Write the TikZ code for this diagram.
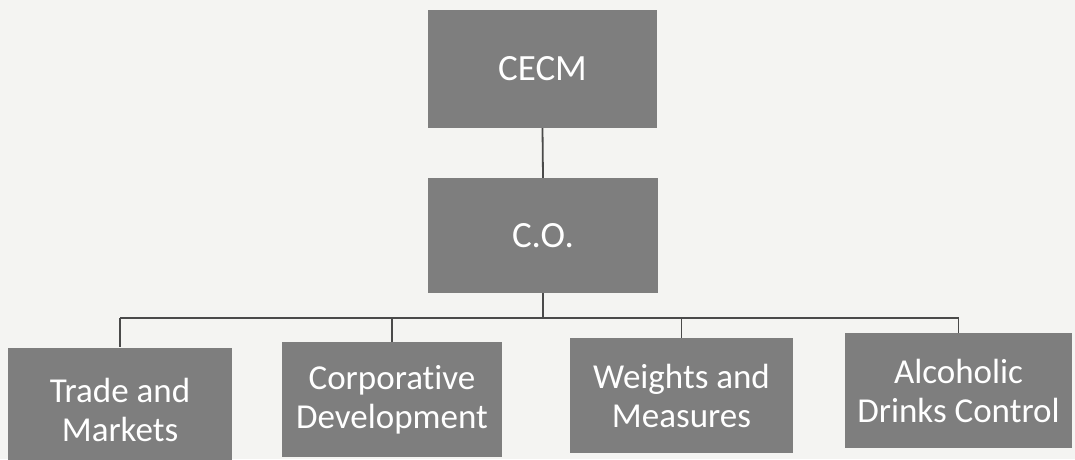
\documentclass[tikz,border=0pt]{standalone}
\usepackage{fontspec}
\setmainfont[Ligatures=CommonOff]{Carlito}
\definecolor{paper}{HTML}{F4F4F2}
\definecolor{boxgray}{HTML}{7E7E7E}
\definecolor{linegray}{HTML}{4A4A4A}
\begin{document}
\begin{tikzpicture}[x=1pt,y=1pt,
  orgbox/.style={fill=boxgray, draw=none, text=white, align=center,
    inner sep=0pt, font=\fontsize{35}{39}\selectfont},
  topbox/.style={orgbox, font=\fontsize{37}{40}\selectfont},
  link/.style={draw=linegray, line width=1.8pt}]
\useasboundingbox (0,0) rectangle (1075,459);
\clip (0,0) rectangle (1075,459);
\fill[paper] (0,0) rectangle (1075,459);
\node[topbox, minimum width=229, minimum height=118] (cecm) at (542.5,390) {CECM};
\node[topbox, minimum width=230, minimum height=115] (co) at (543,223.5) {C.O.};
\node[orgbox, minimum width=224, minimum height=125] (trade) at (120,49) {Trade and\\Markets};
\node[orgbox, minimum width=220, minimum height=115] (corp) at (392,59.5) {Corporative\\Development};
\node[orgbox, minimum width=223, minimum height=115] (weights) at (681.5,63.5) {Weights and\\Measures};
\node[orgbox, minimum width=227, minimum height=115] (alc) at (958.5,68.5) {Alcoholic\\Drinks Control};
\coordinate (bus) at (0,141);
\draw[link] (cecm.south) -- (co.north);
\draw[link] (co.south) -- (co.south |- bus);
\draw[link] (trade.north |- bus) -- (alc.north |- bus);
\draw[link] (trade.north |- bus) -- (trade.north);
\draw[link] (corp.north |- bus) -- (corp.north);
\draw[link] (weights.north |- bus) -- (weights.north);
\draw[link] (alc.north |- bus) -- (alc.north);
\end{tikzpicture}
\end{document}
